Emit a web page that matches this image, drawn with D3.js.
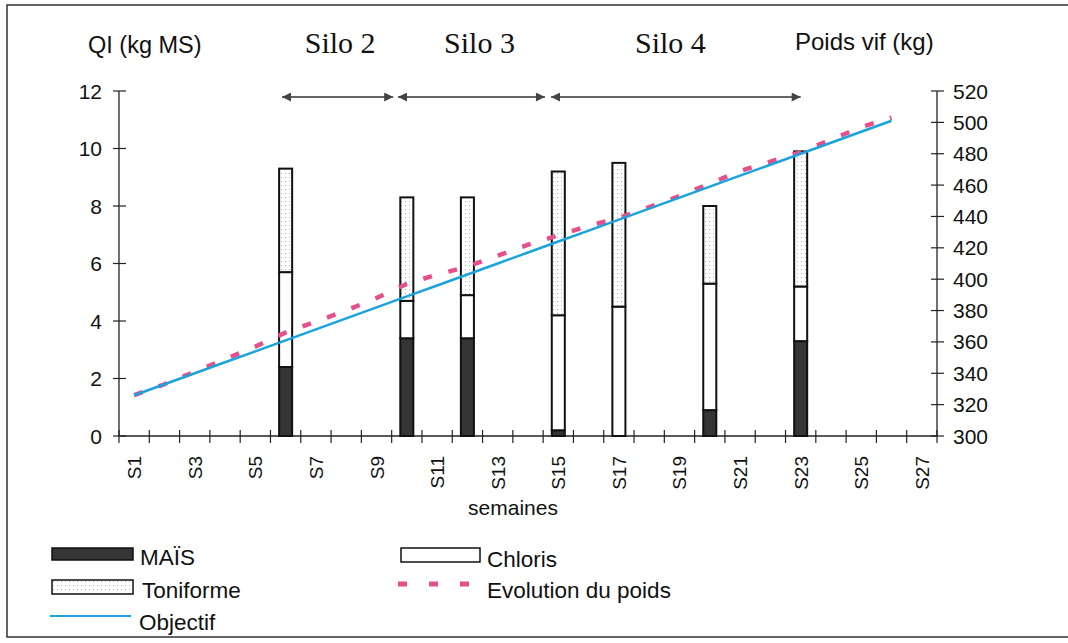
<!DOCTYPE html>
<html>
<head>
<meta charset="utf-8">
<script src="https://cdn.jsdelivr.net/npm/d3@7"></script>
<style>
    body { margin: 0; background: #fff; }
    text { font-family: "Liberation Sans", Arial, sans-serif; fill: #111; }
</style>
</head>
<body>
<svg id="chart" width="1068" height="643"></svg>
<script>
// Categories (weeks)
const weeks = ["S1","S2","S3","S4","S5","S6","S7","S8","S9","S10","S11","S12","S13","S14",
    "S15","S16","S17","S18","S19","S20","S21","S22","S23","S24","S25","S26","S27"];
const weekLabels = ["S1","S3","S5","S7","S9","S11","S13","S15","S17","S19","S21","S23","S25","S27"];

// Intake per forage (kg MS), stacked bars
const barWeeks = ["S6","S10","S12","S15","S17","S20","S23"];
const mais = [2.4, 3.4, 3.4, 0.2, 0, 0.9, 3.3];
const chloris = [3.3, 1.3, 1.5, 4.0, 4.5, 4.4, 1.9];
const toniforme = [3.6, 3.6, 3.4, 5.0, 5.0, 2.7, 4.7];

// Live weight (kg), S1 .. S26
const objectif = [326,333,340,347,354,361,368,375,382,389,396,403,410,417,424,431,438,445,452,459,466,473,480,487,494,501];
const evolution = [326,333,341,349,357,366,373,380,388,397,403,408,415,422,428,434,439,446,453,461,469,475,481,489,497,503];

// Silo periods (week positions) and their labels
const siloNames = ["Silo 2", "Silo 3", "Silo 4"];
const siloStart = [5.88, 9.71, 14.76];
const siloEnd = [9.55, 14.56, 23.0];
const siloLabelAt = [7.8, 12.4, 18.7];

const leftTicks = [0, 2, 4, 6, 8, 10, 12];
const rightTicks = [300,320,340,360,380,400,420,440,460,480,500,520];

const svg = d3.select("#chart");

// outer frame
svg.append("rect")
    .attr("x", 7).attr("y", 5).attr("width", 1100).attr("height", 632)
    .attr("fill", "none").attr("stroke", "#333").attr("stroke-width", 1.5);

// patterns
const defs = svg.append("defs");
const dots = defs.append("pattern")
    .attr("id", "dots").attr("patternUnits", "userSpaceOnUse")
    .attr("width", 4).attr("height", 4);
dots.append("rect").attr("width", 4).attr("height", 4).attr("fill", "#fff");
dots.append("rect").attr("x", 1).attr("y", 1).attr("width", 1).attr("height", 1).attr("fill", "#b0b0b0");

defs.append("marker")
    .attr("id", "arrow").attr("viewBox", "0 0 10 10")
    .attr("refX", 10).attr("refY", 5)
    .attr("markerWidth", 11).attr("markerHeight", 9)
    .attr("markerUnits", "userSpaceOnUse")
    .attr("orient", "auto-start-reverse")
    .append("path").attr("d", "M0,0 L10,5 L0,10 Z").attr("fill", "#444");

// scales
const plotLeft = 119, plotRight = 937, plotTop = 91, plotBottom = 436;
const x = d3.scaleBand().domain(weeks).range([plotLeft, plotRight]).padding(0);
const bw = x.bandwidth();
const xc = d => x(d) + bw / 2;
const xw = d3.scaleLinear().domain([1, 27]).range([xc("S1"), xc("S27")]);
const y = d3.scaleLinear().domain([0, 12]).range([plotBottom, plotTop]);
const y2 = d3.scaleLinear().domain([300, 520]).range([plotBottom, plotTop]);

// axes
const axisColor = "#222";
svg.append("line").attr("x1", plotLeft).attr("x2", plotLeft).attr("y1", plotTop).attr("y2", plotBottom)
    .attr("stroke", axisColor).attr("stroke-width", 1.3);
svg.append("line").attr("x1", plotRight).attr("x2", plotRight).attr("y1", plotTop).attr("y2", plotBottom)
    .attr("stroke", axisColor).attr("stroke-width", 1.3);
svg.append("line").attr("x1", plotLeft).attr("x2", plotRight).attr("y1", plotBottom).attr("y2", plotBottom)
    .attr("stroke", axisColor).attr("stroke-width", 1.3);

// left ticks
const lt = svg.append("g").selectAll("g").data(leftTicks).join("g")
    .attr("transform", d => `translate(${plotLeft},${y(d)})`);
lt.append("line").attr("x1", -6).attr("x2", 7).attr("stroke", axisColor).attr("stroke-width", 1.2);
lt.append("text").attr("x", -17).attr("dy", "0.36em").attr("text-anchor", "end")
    .style("font-size", "21px").text(d => d);

// right ticks
const rt = svg.append("g").selectAll("g").data(rightTicks).join("g")
    .attr("transform", d => `translate(${plotRight},${y2(d)})`);
rt.append("line").attr("x1", -6).attr("x2", 7).attr("stroke", axisColor).attr("stroke-width", 1.2);
rt.append("text").attr("x", 16).attr("dy", "0.36em")
    .style("font-size", "21px").text(d => d);

// x ticks at category boundaries
const boundaries = weeks.map(w => x(w)).concat([plotRight]);
svg.append("g").selectAll("line").data(boundaries).join("line")
    .attr("x1", d => d).attr("x2", d => d)
    .attr("y1", plotBottom - 6).attr("y2", plotBottom + 7)
    .attr("stroke", axisColor).attr("stroke-width", 1.2);

// x labels, rotated
svg.append("g").selectAll("text").data(weekLabels).join("text")
    .attr("transform", d => `translate(${xc(d) + 7},${plotBottom + 20}) rotate(-90)`)
    .attr("text-anchor", "end")
    .style("font-size", "19px")
    .text(d => d);

// axis titles
svg.append("text").attr("x", 88).attr("y", 53).style("font-size", "23.5px").text("QI (kg MS)");
svg.append("text").attr("x", 795).attr("y", 50).style("font-size", "24px").text("Poids vif (kg)");
svg.append("text").attr("x", 513).attr("y", 515).attr("text-anchor", "middle")
    .style("font-size", "21px").text("semaines");

// stacked bars
const series = [
    { name: "MAÏS", values: mais, fill: "#353535" },
    { name: "Chloris", values: chloris, fill: "#fff" },
    { name: "Toniforme", values: toniforme, fill: "url(#dots)" }
];
const barW = bw * 0.43;
const bars = svg.append("g");
barWeeks.forEach((w, i) => {
    let base = 0;
    series.forEach(s => {
        const v = s.values[i];
        if (v > 0) {
            bars.append("rect")
                .attr("x", xc(w) - barW / 2)
                .attr("y", y(base + v))
                .attr("width", barW)
                .attr("height", y(base) - y(base + v))
                .attr("fill", s.fill)
                .attr("stroke", "#111")
                .attr("stroke-width", 2);
        }
        base += v;
    });
});

// weight lines
const lineGen = d3.line().x((d, i) => xc(weeks[i])).y(d => y2(d));
svg.append("path").datum(evolution)
    .attr("d", lineGen).attr("fill", "none")
    .attr("stroke", "#e4508a").attr("stroke-width", 4.5)
    .attr("stroke-dasharray", "9,17");
svg.append("path").datum(objectif)
    .attr("d", lineGen).attr("fill", "none")
    .attr("stroke", "#1ba3dd").attr("stroke-width", 2.5);

// silo arrows
siloNames.forEach((name, i) => {
    svg.append("line")
        .attr("x1", xw(siloStart[i])).attr("x2", xw(siloEnd[i]))
        .attr("y1", 97).attr("y2", 97)
        .attr("stroke", "#333").attr("stroke-width", 1.5)
        .attr("marker-start", "url(#arrow)")
        .attr("marker-end", "url(#arrow)");
    svg.append("text")
        .attr("x", xw(siloLabelAt[i])).attr("y", 53)
        .attr("text-anchor", "middle")
        .style("font-family", "'Liberation Serif', 'Times New Roman', serif")
        .style("font-size", "30px")
        .text(name);
});

// legend
const lg = svg.append("g").style("font-size", "22.5px");
lg.append("rect").attr("x", 52).attr("y", 548).attr("width", 81).attr("height", 12)
    .attr("fill", "#353535").attr("stroke", "#111").attr("stroke-width", 1.5);
lg.append("text").attr("x", 140).attr("y", 565).text("MAÏS");
lg.append("rect").attr("x", 52).attr("y", 580).attr("width", 81).attr("height", 14)
    .attr("fill", "url(#dots)").attr("stroke", "#111").attr("stroke-width", 1.5);
lg.append("text").attr("x", 142).attr("y", 598).text("Toniforme");
lg.append("line").attr("x1", 50).attr("x2", 131).attr("y1", 616).attr("y2", 616)
    .attr("stroke", "#1ba3dd").attr("stroke-width", 2);
lg.append("text").attr("x", 139).attr("y", 630).text("Objectif");

lg.append("rect").attr("x", 401).attr("y", 548).attr("width", 79).attr("height", 14)
    .attr("fill", "#fff").attr("stroke", "#111").attr("stroke-width", 1.5);
lg.append("text").attr("x", 487).attr("y", 567).text("Chloris");
lg.append("line").attr("x1", 398).attr("x2", 474).attr("y1", 584).attr("y2", 584)
    .attr("stroke", "#e4508a").attr("stroke-width", 5)
    .attr("stroke-dasharray", "9,22");
lg.append("text").attr("x", 487).attr("y", 598).text("Evolution du poids");
</script>
</body>
</html>
